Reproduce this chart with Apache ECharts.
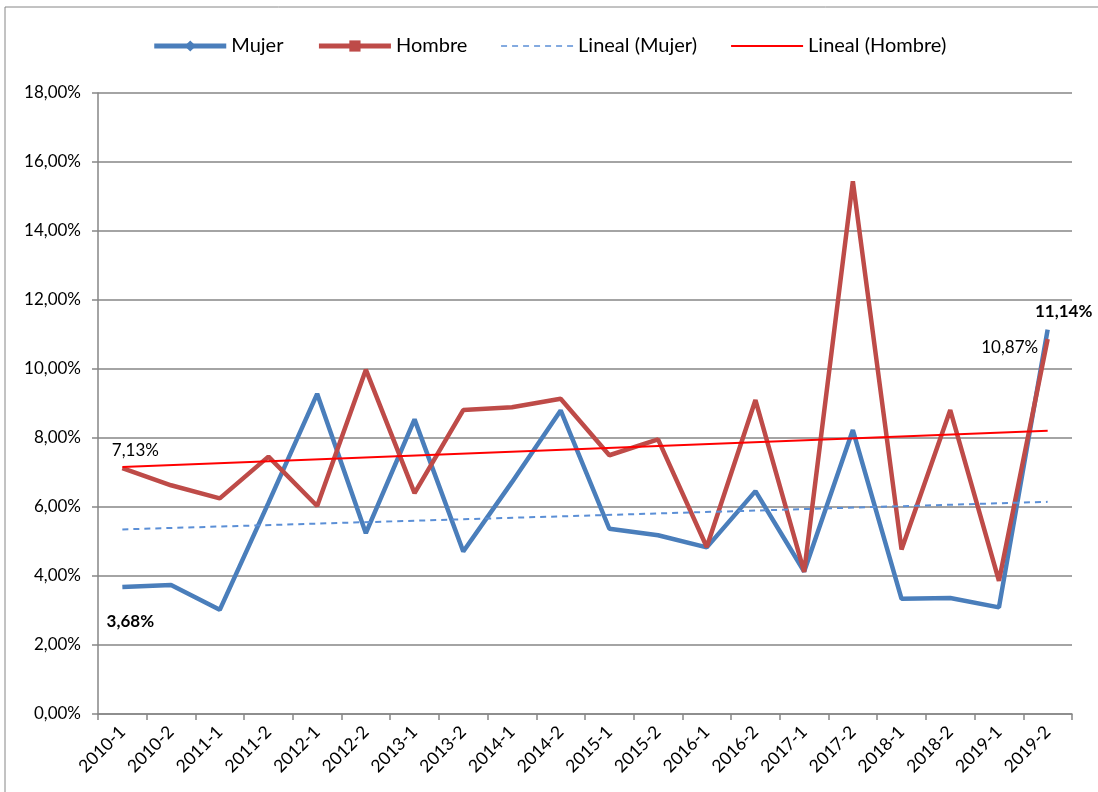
<!DOCTYPE html>
<html><head><meta charset="utf-8">
<script src="https://cdn.jsdelivr.net/npm/echarts@6/dist/echarts.min.js"></script>
<style>html,body{margin:0;padding:0;background:#fff}#c{width:1098px;height:792px}</style>
</head><body><div id="c"></div>
<script>
const categories = ['2010-1','2010-2','2011-1','2011-2','2012-1','2012-2','2013-1','2013-2','2014-1','2014-2','2015-1','2015-2','2016-1','2016-2','2017-1','2017-2','2018-1','2018-2','2019-1','2019-2'];
const mujer = [3.68,3.74,3.02,6.12,9.28,5.24,8.54,4.71,6.72,8.80,5.37,5.18,4.83,6.46,4.13,8.23,3.34,3.36,3.09,11.14];
const hombre = [7.13,6.63,6.25,7.46,6.03,9.98,6.40,8.81,8.89,9.14,7.50,7.96,4.84,9.10,4.12,15.44,4.77,8.81,3.86,10.87];
// trend line endpoints
const trendMujer = [5.35,6.15];
const trendHombre = [7.16,8.21];
const yTicks = {min:0, max:18, interval:2};

function ends(a){ const d = categories.map(()=>null); d[0]=a[0]; d[d.length-1]=a[1]; return d; }
function fmt(v){ return v.toFixed(2).replace('.',',')+'%'; }
const font = 'Lato, "Open Sans", sans-serif';
function lab(idx, val, opts){
  return {value:[idx,val],
    label:Object.assign({show:true,formatter:fmt(val),fontSize:17,color:'#000',opacity:1,textBorderWidth:0,fontFamily:font,position:'inside'},opts)};
}

const chart = echarts.init(document.getElementById('c'));
chart.setOption({
  animation:false,
  textStyle:{fontFamily:font},
  graphic:[{type:'rect',shape:{x:5,y:7,width:1100,height:800},style:{fill:null,stroke:'#868686',lineWidth:1},silent:true}],
  legend:{
    top:31, left:'center', itemGap:33, itemWidth:72, itemHeight:14,
    textStyle:{fontSize:20,color:'#000',fontFamily:font},
    data:[
      {name:'Mujer',lineStyle:{width:5}},
      {name:'Hombre',lineStyle:{width:5}},
      {name:'Lineal (Mujer)',itemStyle:{opacity:0},lineStyle:{width:1.5}},
      {name:'Lineal (Hombre)',itemStyle:{opacity:0},lineStyle:{width:2}}
    ]
  },
  grid:{left:98,right:26,top:93,bottom:78},
  xAxis:{
    type:'category', data:categories, boundaryGap:true,
    axisLine:{lineStyle:{color:'#868686',width:1.5}},
    axisTick:{show:true,length:6,lineStyle:{color:'#868686',width:1.5}},
    axisLabel:{rotate:45,fontSize:17.5,color:'#000',margin:15,fontFamily:font}
  },
  yAxis:{
    type:'value', min:yTicks.min, max:yTicks.max, interval:yTicks.interval,
    axisLine:{show:true,lineStyle:{color:'#868686',width:1.5}},
    axisTick:{show:true,length:6,lineStyle:{color:'#868686',width:1.5}},
    splitLine:{lineStyle:{color:'#868686',width:1.5}},
    axisLabel:{formatter:fmt,fontSize:17,color:'#000',margin:17,fontFamily:font}
  },
  series:[
    {name:'Mujer',type:'line',data:mujer,symbol:'diamond',symbolSize:11,showSymbol:false,
     lineStyle:{color:'#4A7EBB',width:4.5},itemStyle:{color:'#4A7EBB'},z:3},
    {name:'Hombre',type:'line',data:hombre,symbol:'rect',symbolSize:10,showSymbol:false,
     lineStyle:{color:'#BE4B48',width:4.5},itemStyle:{color:'#BE4B48'},z:4},
    {name:'Lineal (Mujer)',type:'line',data:ends(trendMujer),connectNulls:true,showSymbol:false,symbol:'none',
     lineStyle:{color:'#5B8FD6',width:2,type:[6,5]},itemStyle:{color:'#5B8FD6'},z:5},
    {name:'Lineal (Hombre)',type:'line',data:ends(trendHombre),connectNulls:true,showSymbol:false,symbol:'none',
     lineStyle:{color:'#FF0000',width:2},itemStyle:{color:'#FF0000'},z:6},
    {name:'labels',type:'scatter',symbol:'circle',symbolSize:2,itemStyle:{color:'rgba(0,0,0,0)'},z:10,silent:true,
     data:[
       lab(0,mujer[0],{offset:[8,34],fontWeight:'bold'}),
       lab(19,mujer[19],{offset:[16,-18],fontWeight:'bold'}),
       lab(0,hombre[0],{offset:[13,-17]}),
       lab(19,hombre[19],{offset:[-38,9]})
     ]}
  ]
});
</script></body></html>
